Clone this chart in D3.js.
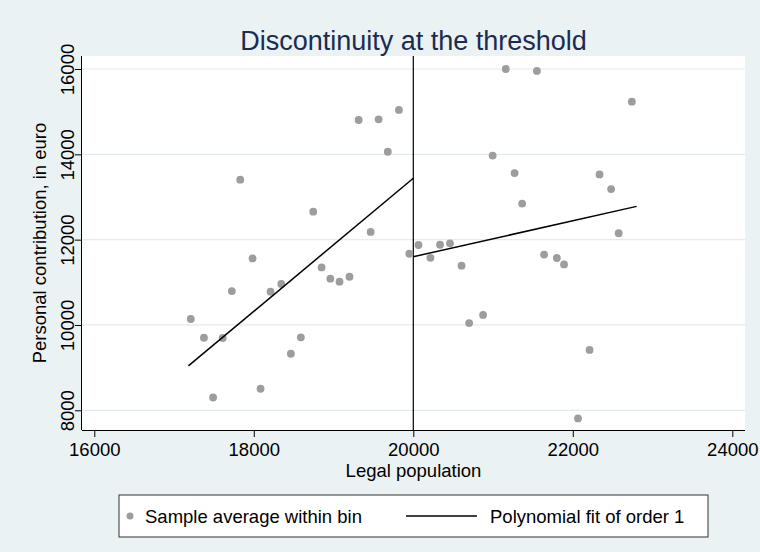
<!DOCTYPE html>
<html lang="en">
<head>
  <meta charset="UTF-8">
  <title>Discontinuity at the threshold</title>
  <style>
    body { margin: 0; background: #eaf2f3; }
    text { font-family: "Liberation Sans", Arial, sans-serif; }
  </style>
</head>
<body>
  <script src="https://cdn.jsdelivr.net/npm/d3@7"></script>
  <script>
    // bin averages, left and right of the threshold
    const leftX = [17210, 17375, 17490, 17610, 17725, 17830, 17985, 18085, 18210, 18345, 18465, 18590,
                   18745, 18850, 18960, 19075, 19200, 19315, 19465, 19565, 19680, 19820, 19950];
    const leftY = [10140, 9700, 8300, 9695, 10795, 13405, 11560, 8505, 10780, 10960, 9325, 9710,
                   12655, 11350, 11085, 11015, 11130, 14805, 12180, 14820, 14060, 15040, 11670];
    const rightX = [20065, 20215, 20335, 20460, 20605, 20700, 20875, 20995, 21160, 21270, 21365, 21550,
                    21640, 21800, 21890, 22065, 22210, 22335, 22480, 22575, 22740];
    const rightY = [11875, 11575, 11880, 11915, 11390, 10045, 10235, 13970, 16000, 13560, 12845, 15955,
                    11650, 11570, 11420, 7810, 9415, 13530, 13185, 12150, 15235];

    // linear fits on each side
    const fitLeftX = [17180, 20000];
    const fitLeftY = [9040, 13440];
    const fitRightX = [20000, 22800];
    const fitRightY = [11600, 12780];

    const threshold = 20000;
    const xTicks = [16000, 18000, 20000, 22000, 24000];
    const yTicks = [8000, 10000, 12000, 14000, 16000];

    const width = 760;
    const height = 552;
    const plot = { left: 82, right: 745, top: 56, bottom: 430 };
    const fontSize = 18.5;

    const x = d3.scaleLinear().domain([15846, 24159]).range([plot.left, plot.right]);
    const y = d3.scaleLinear().domain([7538, 16305]).range([plot.bottom, plot.top]);

    const svg = d3.select('body')
                  .append('svg')
                  .attr('width', width)
                  .attr('height', height);

    svg.append('rect')
        .attr('width', width)
        .attr('height', height)
        .attr('fill', '#eaf2f3');

    svg.append('rect')
        .attr('x', plot.left)
        .attr('y', plot.top)
        .attr('width', plot.right - plot.left)
        .attr('height', plot.bottom - plot.top)
        .attr('fill', '#ffffff');

    // horizontal grid
    svg.append('g')
        .selectAll('line')
        .data(yTicks)
        .enter()
        .append('line')
        .attr('x1', plot.left)
        .attr('x2', plot.right)
        .attr('y1', d => y(d))
        .attr('y2', d => y(d))
        .attr('stroke', '#e2ebed')
        .attr('stroke-width', 1.2);

    // threshold line
    svg.append('line')
        .attr('x1', x(threshold))
        .attr('x2', x(threshold))
        .attr('y1', plot.top)
        .attr('y2', plot.bottom)
        .attr('stroke', '#000')
        .attr('stroke-width', 1.2);

    // points
    const points = leftX.map((d, i) => ({ x: d, y: leftY[i] }))
                        .concat(rightX.map((d, i) => ({ x: d, y: rightY[i] })));
    svg.append('g')
        .selectAll('circle')
        .data(points)
        .enter()
        .append('circle')
        .attr('cx', d => x(d.x))
        .attr('cy', d => y(d.y))
        .attr('r', 3.9)
        .attr('fill', '#9d9d9d');

    // fit lines
    const line = d3.line().x(d => x(d[0])).y(d => y(d[1]));
    [[fitLeftX, fitLeftY], [fitRightX, fitRightY]].forEach(f => {
      svg.append('path')
          .attr('d', line(f[0].map((d, i) => [d, f[1][i]])))
          .attr('fill', 'none')
          .attr('stroke', '#000')
          .attr('stroke-width', 1.5);
    });

    // axes
    const xAxis = svg.append('g')
        .attr('transform', 'translate(0,' + plot.bottom + ')')
        .call(d3.axisBottom(x).tickValues(xTicks).tickFormat(d3.format('d')).tickSize(7).tickSizeOuter(0));
    xAxis.select('.domain').attr('d', 'M' + plot.left + ',0.5H' + plot.right).attr('stroke', '#000');
    xAxis.selectAll('text')
        .attr('y', 26)
        .attr('dy', 0)
        .attr('font-size', fontSize)
        .attr('fill', '#000');

    const yAxis = svg.append('g')
        .attr('transform', 'translate(' + plot.left + ',0)')
        .call(d3.axisLeft(y).tickValues(yTicks).tickFormat(d3.format('d')).tickSize(7).tickSizeOuter(0));
    yAxis.select('.domain').attr('d', 'M-0.5,' + plot.top + 'V' + plot.bottom).attr('stroke', '#000');
    yAxis.selectAll('text')
        .attr('transform', 'rotate(-90)')
        .attr('x', 0)
        .attr('y', -8)
        .attr('dy', 0)
        .attr('text-anchor', 'middle')
        .attr('font-size', fontSize)
        .attr('fill', '#000');
    svg.selectAll('.domain, .tick line').attr('stroke-width', 1);
    svg.selectAll('g text').attr('font-family', '"Liberation Sans", Arial, sans-serif');

    // titles
    svg.append('text')
        .attr('x', (plot.left + plot.right) / 2)
        .attr('y', 50)
        .attr('text-anchor', 'middle')
        .attr('font-size', 27)
        .attr('fill', '#1b2c51')
        .text('Discontinuity at the threshold');

    svg.append('text')
        .attr('x', (plot.left + plot.right) / 2)
        .attr('y', 477)
        .attr('text-anchor', 'middle')
        .attr('font-size', fontSize)
        .text('Legal population');

    svg.append('text')
        .attr('transform', 'translate(46,' + (plot.top + plot.bottom) / 2 + ') rotate(-90)')
        .attr('text-anchor', 'middle')
        .attr('font-size', fontSize)
        .text('Personal contribution, in euro');

    // legend
    const legend = svg.append('g');
    legend.append('rect')
        .attr('x', 119)
        .attr('y', 495)
        .attr('width', 589)
        .attr('height', 42)
        .attr('fill', '#fff')
        .attr('stroke', '#333')
        .attr('stroke-width', 1);
    legend.append('circle')
        .attr('cx', 130)
        .attr('cy', 516)
        .attr('r', 3.5)
        .attr('fill', '#9d9d9d');
    legend.append('text')
        .attr('x', 145)
        .attr('y', 523)
        .attr('font-size', fontSize)
        .text('Sample average within bin');
    legend.append('line')
        .attr('x1', 406)
        .attr('x2', 477)
        .attr('y1', 516)
        .attr('y2', 516)
        .attr('stroke', '#000')
        .attr('stroke-width', 1.5);
    legend.append('text')
        .attr('x', 490)
        .attr('y', 523)
        .attr('font-size', fontSize)
        .text('Polynomial fit of order 1');
  </script>
</body>
</html>
